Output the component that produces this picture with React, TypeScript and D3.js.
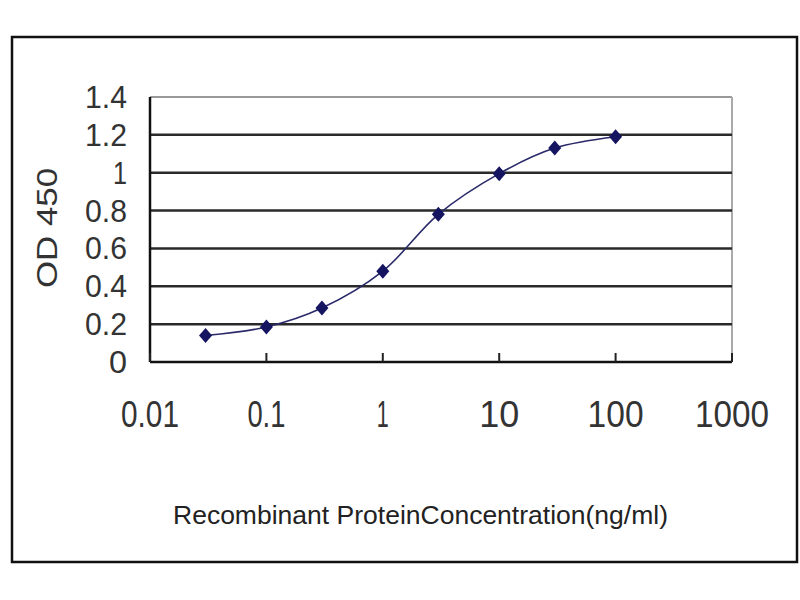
import React from "react";
import * as d3 from "d3";

const concentrations = [0.03, 0.1, 0.3, 1, 3, 10, 30, 100];
const odValues = [0.14, 0.185, 0.285, 0.48, 0.78, 0.995, 1.13, 1.19];
const yTicks = [0, 0.2, 0.4, 0.6, 0.8, 1, 1.2, 1.4];
const xTicks = [0.01, 0.1, 1, 10, 100, 1000];
const xTickLabels = ["0.01", "0.1", "1", "10", "100", "1000"];
const yTickLabels = ["0", "0.2", "0.4", "0.6", "0.8", "1", "1.2", "1.4"];
const xTitle = "Recombinant ProteinConcentration(ng/ml)";
const yTitle = "OD 450";

export default function App() {
  const left = 150, right = 732, top = 97, bottom = 362;
  const x = d3.scaleLog().domain([0.01, 1000]).range([left, right]);
  const y = d3.scaleLinear().domain([0, 1.4]).range([bottom, top]);
  const pts: [number, number][] = concentrations.map((c, i) => [x(c), y(odValues[i])]);
  const line = d3.line().curve(d3.curveCatmullRom.alpha(0.5))(pts) || "";
  const font = "'Liberation Sans', Arial, sans-serif";
  const xLabelWidths = [58, 38, 12, 40, 56, 74];
  const yLabelWidths = [18, 42, 42, 42, 42, 14, 42, 42];
  return (
    <svg width={800} height={600} style={{ position: "absolute", left: 0, top: 0, background: "#fff" }}>
      <rect x={12} y={37} width={785} height={525} fill="#fff" stroke="#111" strokeWidth={2.5} />
      <line x1={left} x2={right} y1={top} y2={top} stroke="#999" strokeWidth={2} />
      <line x1={right} x2={right} y1={top} y2={bottom} stroke="#aaa" strokeWidth={2} />
      {yTicks.filter((t) => t > 0 && t < 1.4).map((t) => (
        <line key={t} x1={left} x2={right} y1={y(t)} y2={y(t)} stroke="#2a2a2a" strokeWidth={2.5} />
      ))}
      <line x1={left} x2={left} y1={top} y2={bottom} stroke="#111" strokeWidth={2.5} />
      <line x1={left} x2={right} y1={bottom} y2={bottom} stroke="#111" strokeWidth={2.5} />
      {xTicks.map((t) => (
        <line key={t} x1={x(t)} x2={x(t)} y1={bottom} y2={bottom - 9} stroke="#222" strokeWidth={2} />
      ))}
      {yTicks.map((t, i) => (
        <text key={t} x={127 - yLabelWidths[i]} y={y(t) + 11} fontFamily={font} fontSize={31} fill="#333"
          textLength={yLabelWidths[i]} lengthAdjust="spacingAndGlyphs">
          {yTickLabels[i]}
        </text>
      ))}
      {xTicks.map((t, i) => (
        <text key={t} x={x(t) - xLabelWidths[i] / 2} y={427} fontFamily={font} fontSize={36} fill="#333"
          textLength={xLabelWidths[i]} lengthAdjust="spacingAndGlyphs">
          {xTickLabels[i]}
        </text>
      ))}
      <text x={173} y={524} fontFamily={font} fontSize={25} fill="#222" textLength={495} lengthAdjust="spacingAndGlyphs">
        {xTitle}
      </text>
      <text transform="translate(57,228) rotate(-90)" textAnchor="middle" fontFamily={font} fontSize={29} fill="#333"
        textLength={120} lengthAdjust="spacingAndGlyphs">
        {yTitle}
      </text>
      <path d={line} fill="none" stroke="#2a2a6a" strokeWidth={1.6} />
      {pts.map(([px, py], i) => (
        <path key={i} d={`M${px},${py - 7.5}L${px + 6.5},${py}L${px},${py + 7.5}L${px - 6.5},${py}Z`} fill="#141460" />
      ))}
    </svg>
  );
}
